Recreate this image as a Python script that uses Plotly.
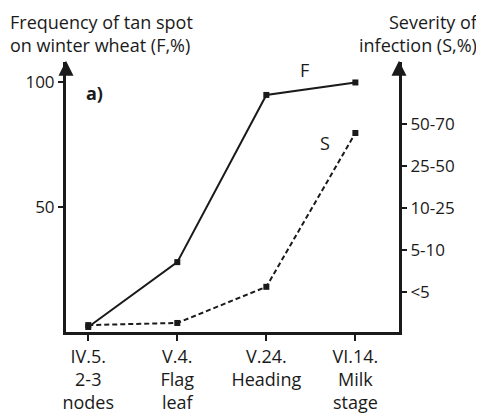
import plotly.graph_objects as go

stages = ["IV.5.<br>2-3<br>nodes", "V.4.<br>Flag<br>leaf", "V.24.<br>Heading", "VI.14.<br>Milk<br>stage"]
stage_pos = [0, 1, 2, 3]
freq_F = [2, 28, 95, 100]
severity_S = [0.22, 0.27, 1.13, 4.79]
left_ticks = [50, 100]
right_tickvals = [1, 2, 3, 4, 5]
right_ticktext = ["<5", "5-10", "10-25", "25-50", "50-70"]

FONT = "Open Sans, Liberation Sans, Arial, sans-serif"
INK = "#1a1a1a"

fig = go.Figure()
fig.add_trace(go.Scatter(
    x=stage_pos, y=freq_F, mode="lines+markers",
    line=dict(color=INK, width=2),
    marker=dict(symbol="square", size=6, color=INK),
    showlegend=False, cliponaxis=False))
fig.add_trace(go.Scatter(
    x=stage_pos, y=severity_S, mode="lines+markers", yaxis="y2",
    line=dict(color=INK, width=2, dash="5px,3px"),
    marker=dict(symbol="square", size=6, color=INK),
    showlegend=False, cliponaxis=False))

axis_common = dict(showgrid=False, zeroline=False, showline=True, linewidth=3,
                   linecolor=INK, ticks="outside", tickwidth=2, tickcolor=INK,
                   automargin=False)

fig.update_layout(
    width=484, height=413,
    margin=dict(l=58, r=93, t=54, b=89, autoexpand=False),
    paper_bgcolor="white", plot_bgcolor="white",
    font=dict(family=FONT, size=17, color=INK),
    xaxis=dict(range=[-0.25, 3.49], tickvals=stage_pos, ticktext=stages,
               ticklen=6, tickfont=dict(size=18), ticklabelstandoff=0,
               **axis_common),
    yaxis=dict(range=[0, 108.2], tickvals=left_ticks, ticklen=5,
               tickfont=dict(size=17), **axis_common),
    yaxis2=dict(range=[0.055, 6.48], overlaying="y", side="right",
                tickvals=right_tickvals, ticktext=right_ticktext, ticklen=5,
                tickfont=dict(size=17), **axis_common),
)

ann = [
    dict(text="Frequency of tan spot<br>on winter wheat (F,%)", xref="paper", yref="paper",
         x=-0.174, y=1.2, xanchor="left", yanchor="top", align="left",
         showarrow=False, font=dict(size=18)),
    dict(text="Severity of<br>infection (S,%)", xref="paper", yref="paper",
         x=1.243, y=1.2, xanchor="right", yanchor="top", align="right",
         showarrow=False, font=dict(size=18)),
    dict(text="F", x=2.43, y=105, xref="x", yref="y", showarrow=False, font=dict(size=18)),
    dict(text="S", x=2.66, y=75.8, xref="x", yref="y", showarrow=False, font=dict(size=18)),
    dict(text="<b>a)</b>", x=0.075, y=95.8, xref="x", yref="y", showarrow=False, font=dict(size=18)),
    dict(text="", xref="paper", yref="paper", x=0, y=1.005, ax=0, ay=10,
         showarrow=True, arrowhead=2, arrowsize=1, arrowwidth=3, arrowcolor=INK),
    dict(text="", xref="paper", yref="paper", x=1, y=1.005, ax=0, ay=10,
         showarrow=True, arrowhead=2, arrowsize=1, arrowwidth=3, arrowcolor=INK),
]
fig.update_layout(annotations=ann)

fig.write_html("out.html")
